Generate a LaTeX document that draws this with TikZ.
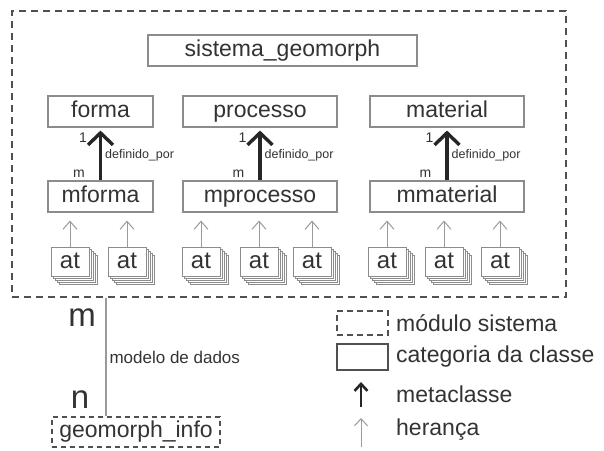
\documentclass[tikz,border=0pt]{standalone}
\usepackage{fontspec}
\setmainfont{Liberation Sans}
\usetikzlibrary{arrows.meta,calc}
\definecolor{txt}{HTML}{333333}
\definecolor{frame}{HTML}{8C8C8C}
\definecolor{dashc}{HTML}{505050}
\definecolor{thin}{HTML}{9A9A9A}
\tikzset{
  every node/.style={text=txt, inner sep=0pt},
  catbox/.style={draw=frame, line width=1.1pt, fill=white, font=\fontsize{23}{23}\selectfont,
    text height=16.5pt, text depth=5pt},
  atbox/.style={draw=frame, line width=1pt, fill=white, minimum width=38pt, minimum height=29pt,
    font=\fontsize{24}{24}\selectfont, text height=17pt, text depth=3pt},
  modbox/.style={draw=dashc, line width=1.3pt, dash pattern=on 7pt off 5pt},
  metaarrow/.style={draw=black!85, line width=3.4pt, -{Straight Barb[length=12pt,width=25pt]}, shorten >=3pt},
  inharrow/.style={draw=thin, line width=1pt, -{Straight Barb[length=8pt,width=14pt]}},
  small/.style={font=\fontsize{12.5}{12.5}\selectfont},
  card/.style={font=\fontsize{14}{14}\selectfont},
  legtext/.style={anchor=west, font=\fontsize{23}{23}\selectfont},
}
\newcommand{\stackshadow}[2]{% draws the layered sheets behind an attribute box
  \foreach \k in {4,3,2,1}{
    \draw[draw=frame, line width=0.8pt, fill=white]
      ($(#1)+(-19pt+2*\k pt,14.5pt-2*\k pt)$) rectangle ($(#1)+(19pt+2*\k pt,-14.5pt-2*\k pt)$);
  }
}
\begin{document}
\begin{tikzpicture}[x=1pt,y=-1pt]
\useasboundingbox (0,0) rectangle (604,450);

% system module
\node[modbox, minimum width=554pt, minimum height=286pt] (modulo) at (289,154) {};
\node[catbox, minimum width=269pt, minimum height=31pt] (sistema) at (282.5,50.5) {sistema\_geomorph};

% class categories
\node[catbox, minimum width=105pt, minimum height=31pt] (forma) at (100.5,111.5) {forma};
\node[catbox, minimum width=154pt, minimum height=31pt] (processo) at (260,111.5) {processo};
\node[catbox, minimum width=154pt, minimum height=31pt] (material) at (447,111.5) {material};
\node[catbox, minimum width=105pt, minimum height=31pt] (mforma) at (100.5,196.5) {mforma};
\node[catbox, minimum width=154pt, minimum height=31pt] (mprocesso) at (260,196.5) {mprocesso};
\node[catbox, minimum width=154pt, minimum height=31pt] (mmaterial) at (447,196.5) {mmaterial};

% metaclass links
\foreach \lo/\hi in {mforma/forma, mprocesso/processo, mmaterial/material}{
  \draw[metaarrow] (\lo.north) -- (\hi.south)
    node[small, pos=0.48, anchor=west, xshift=3pt] {definido\_por}
    node[card, pos=0.80, anchor=east, xshift=-12pt] {1}
    node[card, pos=0.13, anchor=east, xshift=-14pt] {m};
}

% attributes
\foreach \n/\x/\p in {at1/70/mforma, at2/127/mforma, at3/201/mprocesso, at4/259/mprocesso,
                      at5/312/mprocesso, at6/387/mmaterial, at7/444/mmaterial, at8/500/mmaterial}{
  \coordinate (c\n) at (\x,261.5);
  \stackshadow{c\n}{}
  \node[atbox] (\n) at (c\n) {at};
  \draw[inharrow, shorten >=8pt] (\n.north) -- (\n.north |- \p.south);
}

% data model relation
\node[modbox, dash pattern=on 5pt off 4pt, line width=1.2pt, minimum width=168pt, minimum height=30pt,
  font=\fontsize{23}{23}\selectfont, text height=16.5pt, text depth=5pt] (info) at (136,432) {geomorph\_info};
\coordinate (rel) at (106,0);
\draw[draw=thin, line width=1.1pt] (modulo.south -| rel) -- (info.north -| rel)
  node[pos=0.5, anchor=west, xshift=3pt, font=\fontsize{17}{17}\selectfont] {modelo de dados};
\node[font=\fontsize{33}{33}\selectfont, anchor=base] (mm) at (82,326) {m};
\node[font=\fontsize{33}{33}\selectfont, anchor=base] (nn) at (80,408) {n};

% legend
\node[modbox, dash pattern=on 6pt off 4pt, line width=1.2pt, minimum width=51pt, minimum height=24pt] (lmod) at (362.5,323) {};
\node[legtext] (tmod) at (396,323) {módulo sistema};
\node[draw=dashc, line width=1.3pt, minimum width=51pt, minimum height=26pt] (lcat) at (362.5,357) {};
\node[legtext] (tcat) at (396,357) {categoria da classe};
\coordinate (lm1) at (361,407);
\coordinate (lm2) at (361,382);
\draw[draw=black!85, line width=2.6pt, -{Straight Barb[length=7pt,width=13pt]}] (lm1) -- (lm2);
\node[legtext] (tmeta) at (396,394) {metaclasse};
\coordinate (lh1) at (361,447);
\coordinate (lh2) at (361,418);
\draw[inharrow, -{Straight Barb[length=7pt,width=13pt]}] (lh1) -- (lh2);
\node[legtext] (therr) at (396,430) {herança};
\end{tikzpicture}
\end{document}
